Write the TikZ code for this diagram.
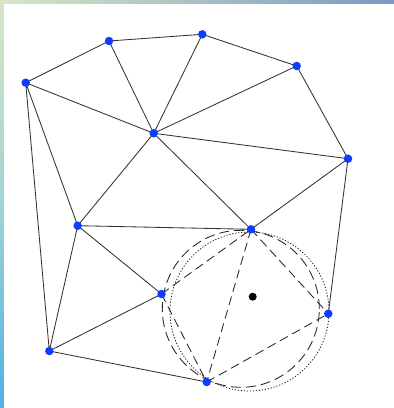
\documentclass[tikz,border=0pt]{standalone}
\begin{document}
\begin{tikzpicture}[x=1pt,y=-1pt]
\definecolor{vblue}{RGB}{15,60,255}
\definecolor{tl}{RGB}{216,230,196}
\definecolor{tr}{RGB}{120,154,196}
\definecolor{lb}{RGB}{80,176,228}
\definecolor{lm}{RGB}{160,212,212}
\tikzset{
  edge/.style={draw=black!80,line width=0.85pt},
  dedge/.style={draw=black!85,line width=0.85pt,dash pattern=on 9pt off 5pt},
  dotcirc/.style={draw=black!90,line width=0.8pt,dash pattern=on 1.2pt off 1.8pt},
  dashcirc/.style={draw=black!85,line width=0.85pt,dash pattern=on 10pt off 5pt},
  vertex/.style={circle,fill=vblue,inner sep=0pt,minimum size=8.5pt},
  newpt/.style={circle,fill=black,inner sep=0pt,minimum size=8pt}}
\useasboundingbox (0,0) rectangle (394,408);
\fill[white] (0,0) rectangle (394,408);
\shade[left color=tl,right color=tr] (0,0) rectangle (394,3.2);
\shade[top color=tl,bottom color=lb,middle color=lm] (0,0) rectangle (3.5,408);
% points
\coordinate (A) at (25.7,82.7);
\coordinate (B) at (109,41);
\coordinate (C) at (202.3,34.3);
\coordinate (D) at (296.7,66);
\coordinate (E) at (348,158.7);
\coordinate (F) at (153.7,133.3);
\coordinate (G) at (77.7,225.7);
\coordinate (H) at (251,229.3);
\coordinate (I) at (161.5,294);
\coordinate (J) at (49.3,351);
\coordinate (K) at (206.7,382);
\coordinate (L) at (328.3,313.7);
\coordinate (P) at (252.7,296.7);
\coordinate (c1) at (249.5,311.5);
\coordinate (c2) at (240.8,308.8);
% circles
\draw[dotcirc] (c1) circle [radius=79.5pt];
\draw[dashcirc] (c2) circle [radius=78.5pt];
% solid edges
\draw[edge] (A)--(B) (B)--(C) (C)--(D) (D)--(E)
  (A)--(F) (B)--(F) (C)--(F) (D)--(F) (F)--(E)
  (A)--(G) (A)--(J) (F)--(G) (F)--(H) (E)--(H) (E)--(L)
  (G)--(H) (G)--(I) (G)--(J) (J)--(I) (J)--(K);
% dashed edges
\draw[dedge] (I)--(H);
\draw[dedge] (I)--(K);
\draw[dedge] (H)--(K);
\draw[dedge] (H)--(L);
\draw[dedge] (K)--(L);
% vertices
\foreach \p in {A,B,C,D,E,F,G,H,I,J,K,L}
  \node[vertex] (v\p) at (\p) {};
\node[newpt] (vP) at (P) {};
\end{tikzpicture}
\end{document}
